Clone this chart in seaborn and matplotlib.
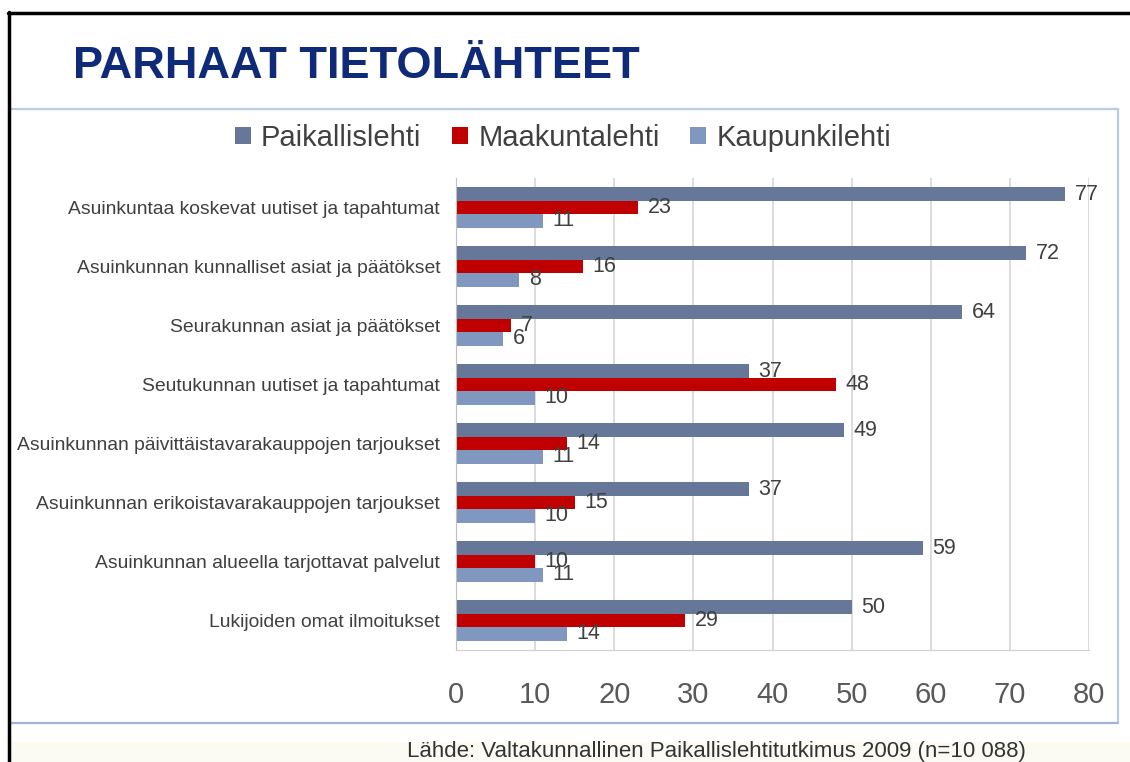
import numpy as np
import pandas as pd
import matplotlib.pyplot as plt
from matplotlib.lines import Line2D
from matplotlib.patches import Rectangle
import seaborn as sns

# data
categories = [
    "Asuinkuntaa koskevat uutiset ja tapahtumat",
    "Asuinkunnan kunnalliset asiat ja päätökset",
    "Seurakunnan asiat ja päätökset",
    "Seutukunnan uutiset ja tapahtumat",
    "Asuinkunnan päivittäistavarakauppojen tarjoukset",
    "Asuinkunnan erikoistavarakauppojen tarjoukset",
    "Asuinkunnan alueella tarjottavat palvelut",
    "Lukijoiden omat ilmoitukset",
]
series = ["Paikallislehti", "Maakuntalehti", "Kaupunkilehti"]
paikallislehti = [77, 72, 64, 37, 49, 37, 59, 50]
maakuntalehti = [23, 16, 7, 48, 14, 15, 10, 29]
kaupunkilehti = [11, 8, 6, 10, 11, 10, 11, 14]
xticks = [0, 10, 20, 30, 40, 50, 60, 70, 80]
colors = ["#667799", "#c00000", "#8097c0"]

rows = []
for name, vals in zip(series, [paikallislehti, maakuntalehti, kaupunkilehti]):
    for cat, v in zip(categories, vals):
        rows.append({"kategoria": cat, "lahde": name, "arvo": v})
df = pd.DataFrame(rows)

sns.set_style("white")
plt.rcParams["font.family"] = ["Liberation Sans", "DejaVu Sans"]

W, H = 1130, 762
fig = plt.figure(figsize=(W / 100, H / 100), dpi=100)
ax = fig.add_axes([456 / W, 1 - 650 / H, (1089 - 456) / W, (650 - 178) / H])

sns.barplot(data=df, y="kategoria", x="arvo", hue="lahde", order=categories,
            hue_order=series, palette=colors, orient="h", width=0.68,
            saturation=1, linewidth=0, ax=ax)

for cont in ax.containers:
    ax.bar_label(cont, padding=7, fontsize=15.5, color="#404040")

ax.set_xlim(0, 80)
ax.set_ylim(7.5, -0.5)
ax.set_xticks(xticks)
ax.set_xlabel("")
ax.set_ylabel("")
ax.xaxis.grid(True, color="#d9d9d9", lw=1.3)
ax.set_axisbelow(True)
for s in ["top", "right"]:
    ax.spines[s].set_visible(False)
ax.spines["left"].set_color("#bfbfbf")
ax.spines["bottom"].set_color("#d0d0d0")
ax.tick_params(axis="x", length=8, color="#d9d9d9", width=1.3, pad=14,
               labelsize=21, labelcolor="#595959")
ax.tick_params(axis="y", which="major", length=0, pad=11.5,
               labelsize=13.9, labelcolor="#404040")
ax.set_yticks(np.arange(-0.5, 8, 1), minor=True)
ax.tick_params(axis="y", which="minor", length=5, color="#bfbfbf", width=1)

handles, labels = ax.get_legend_handles_labels()
ax.get_legend().remove()
fig.legend(handles, labels, ncol=3, frameon=False, loc="center",
           bbox_to_anchor=(563 / W, 1 - 138 / H), fontsize=21,
           handlelength=0.55, handleheight=0.55, handletextpad=0.35,
           columnspacing=1.05, labelcolor="#404040")

# title and source
fig.text(73 / W, 1 - 78 / H, "PARHAAT TIETOLÄHTEET", fontsize=32.5,
         fontweight="bold", color="#0f2a78", va="baseline", ha="left")
fig.text(407 / W, 1 - 751 / H,
         "Lähde: Valtakunnallinen Paikallislehtitutkimus 2009 (n=10 088)",
         fontsize=16, color="#333333", va="center", ha="left")

# slide decorations
fig.patches.append(Rectangle((10 / W, 0), 1, (762 - 742) / H,
                             transform=fig.transFigure, color="#fcfbf3",
                             zorder=-5))
frame_col = "#bccbe4"
fig.lines.append(Line2D([10 / W, 1118 / W], [1 - 109 / H, 1 - 109 / H],
                        transform=fig.transFigure, color=frame_col, lw=1.6))
fig.lines.append(Line2D([1118 / W, 1118 / W], [1 - 109 / H, 1 - 723 / H],
                        transform=fig.transFigure, color=frame_col, lw=1.6))
fig.lines.append(Line2D([10 / W, 1118 / W], [1 - 723 / H, 1 - 723 / H],
                        transform=fig.transFigure, color="#9fb4d8", lw=1.6))
fig.lines.append(Line2D([8 / W, 1], [1 - 13 / H, 1 - 13 / H],
                        transform=fig.transFigure, color="black", lw=2.5))
fig.lines.append(Line2D([9 / W, 9 / W], [1 - 12 / H, 0],
                        transform=fig.transFigure, color="black", lw=2.5))

fig.savefig("out.png", dpi=100)
